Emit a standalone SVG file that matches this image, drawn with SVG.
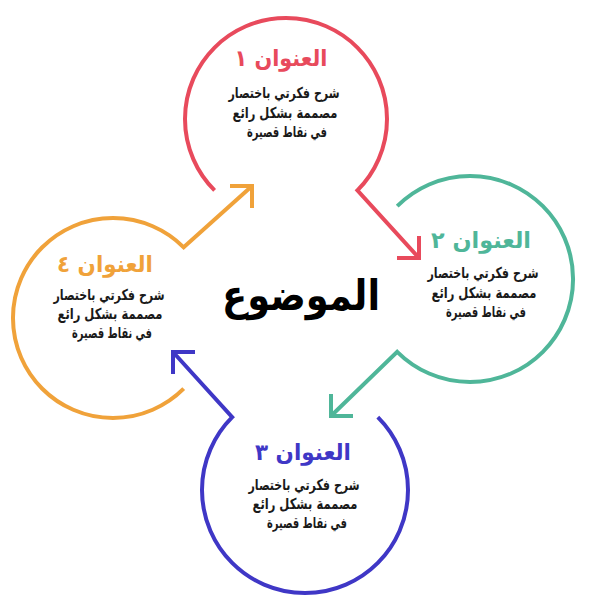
<svg xmlns="http://www.w3.org/2000/svg" width="600" height="600" viewBox="0 0 600 600">
<style>
  .ring { fill: none; stroke-width: 4; stroke-linejoin: miter; stroke-linecap: butt; }
  .t { font-family: "DejaVu Sans", "Noto Sans", sans-serif; font-weight: bold; text-anchor: middle; direction: rtl; }
  .title { font-size: 23px; }
  .body { font-size: 15px; fill: #1a1a1a; }
  .red { stroke: #E84A5C; } .redf { fill: #E84A5C; }
  .teal { stroke: #4FB699; } .tealf { fill: #4FB699; }
  .blue { stroke: #3F37C6; } .bluef { fill: #3F37C6; }
  .orange { stroke: #F0A23A; } .orangef { fill: #F0A23A; }
</style>
<rect width="600" height="600" fill="#ffffff"/>
<g id="connectors">
  <path class="ring red" d="M214.6,190.4 A101,101 0 1 1 357.4,190.4 L419,258"/>
  <polyline class="ring red" points="419,236 419,258 397,258"/>
  <path class="ring teal" d="M397.2,206.2 A103,103 0 1 1 397.2,351.8 L331,416"/>
  <polyline class="ring teal" points="331,394 331,416 353,416"/>
  <path class="ring blue" d="M377.8,417.2 A103,103 0 1 1 232.2,417.2 L173,352"/>
  <polyline class="ring blue" points="195,352 173,352 173,374"/>
  <path class="ring orange" d="M183.7,388.7 A100,100 0 1 1 183.7,247.3 L252,186"/>
  <polyline class="ring orange" points="230,186 252,186 252,208"/>
</g>
<g id="center">
  <text class="t" x="301" y="310" font-size="42" fill="#000" textLength="158" lengthAdjust="spacingAndGlyphs">الموضوع</text>
</g>
<g id="node1">
  <text class="t title redf" x="281" y="66" textLength="93" lengthAdjust="spacingAndGlyphs">العنوان ١</text>
  <text class="t body" x="284" y="98" textLength="111" lengthAdjust="spacingAndGlyphs">شرح فكرتي باختصار</text>
  <text class="t body" x="285" y="118" textLength="105" lengthAdjust="spacingAndGlyphs">مصممة بشكل رائع</text>
  <text class="t body" x="287" y="137" textLength="80" lengthAdjust="spacingAndGlyphs">في نقاط قصيرة</text>
</g>
<g id="node2">
  <text class="t title tealf" x="481" y="248" textLength="100" lengthAdjust="spacingAndGlyphs">العنوان ٢</text>
  <text class="t body" x="483" y="278" textLength="111" lengthAdjust="spacingAndGlyphs">شرح فكرتي باختصار</text>
  <text class="t body" x="484" y="298" textLength="105" lengthAdjust="spacingAndGlyphs">مصممة بشكل رائع</text>
  <text class="t body" x="486" y="317" textLength="80" lengthAdjust="spacingAndGlyphs">في نقاط قصيرة</text>
</g>
<g id="node3">
  <text class="t title bluef" x="303" y="460" textLength="96" lengthAdjust="spacingAndGlyphs">العنوان ٣</text>
  <text class="t body" x="304" y="490" textLength="111" lengthAdjust="spacingAndGlyphs">شرح فكرتي باختصار</text>
  <text class="t body" x="305" y="509" textLength="105" lengthAdjust="spacingAndGlyphs">مصممة بشكل رائع</text>
  <text class="t body" x="307" y="528" textLength="80" lengthAdjust="spacingAndGlyphs">في نقاط قصيرة</text>
</g>
<g id="node4">
  <text class="t title orangef" x="105" y="272" textLength="96" lengthAdjust="spacingAndGlyphs">العنوان ٤</text>
  <text class="t body" x="109" y="300" textLength="111" lengthAdjust="spacingAndGlyphs">شرح فكرتي باختصار</text>
  <text class="t body" x="110" y="319" textLength="105" lengthAdjust="spacingAndGlyphs">مصممة بشكل رائع</text>
  <text class="t body" x="112" y="338" textLength="80" lengthAdjust="spacingAndGlyphs">في نقاط قصيرة</text>
</g>
</svg>
